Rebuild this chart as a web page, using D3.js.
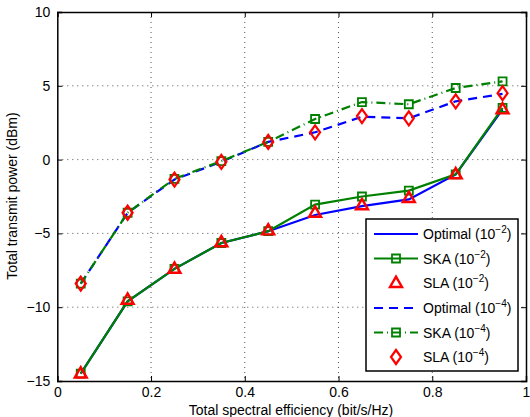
<!DOCTYPE html>
<html><head><meta charset="utf-8">
<script src="https://cdn.jsdelivr.net/npm/d3@7"></script>
<style>body{margin:0;background:#fff}svg{display:block;font-family:"Liberation Sans",Arial,sans-serif}</style>
</head><body><svg id="c" width="530" height="417"></svg>
<script>
const xVals = [0.05,0.15,0.25,0.35,0.45,0.55,0.65,0.75,0.85,0.95];
const opt2 = [-14.5,-9.6,-7.4,-5.65,-4.85,-3.75,-3.15,-2.7,-1.0,3.4];
const ska2 = [-14.5,-9.6,-7.4,-5.65,-4.85,-3.05,-2.5,-2.1,-1.0,3.5];
const sla2 = [-14.5,-9.5,-7.4,-5.6,-4.8,-3.6,-3.1,-2.6,-1.0,3.4];
const opt4 = [-8.4,-3.6,-1.35,-0.15,1.2,1.85,2.9,2.8,3.95,4.45];
const ska4 = [-8.4,-3.6,-1.3,-0.1,1.2,2.75,3.9,3.75,4.85,5.3];
const sla4 = [-8.4,-3.6,-1.35,-0.15,1.2,1.85,2.95,2.8,3.95,4.5];
const xTicks = [0,0.2,0.4,0.6,0.8,1];
const yTicks = [-15,-10,-5,0,5,10];
const legendLabels = ["Optimal","SKA","SLA","Optimal","SKA","SLA"];
const legendExp = ["\u22122","\u22122","\u22122","\u22124","\u22124","\u22124"];

const svg = d3.select("#c");
const L=57.3, R=526, T=12, B=381;
const x = d3.scaleLinear().domain([0,1]).range([L,R]);
const y = d3.scaleLinear().domain([-15,10]).range([B,T]);
const blue="#0000ff", green="#008000", red="#ff0000";

// grid
const g = svg.append("g");
xTicks.slice(1,-1).forEach(t=>g.append("line").attr("x1",x(t)).attr("x2",x(t)).attr("y1",T).attr("y2",B)
  .attr("stroke","#555").attr("stroke-width",1).attr("stroke-dasharray","1,4"));
yTicks.slice(1,-1).forEach(t=>g.append("line").attr("x1",L).attr("x2",R).attr("y1",y(t)).attr("y2",y(t))
  .attr("stroke","#555").attr("stroke-width",1).attr("stroke-dasharray","1,4"));

// axes
const fmt = d=> d<0 ? "\u2212"+Math.abs(d) : String(d);
const ax = svg.append("g").attr("transform",`translate(0,${B})`)
  .call(d3.axisBottom(x).tickValues(xTicks).tickSize(-5).tickPadding(6).tickFormat(d=>d===0||d===1?String(d):d3.format(".1f")(d)));
const ay = svg.append("g").attr("transform",`translate(${L},0)`)
  .call(d3.axisLeft(y).tickValues(yTicks).tickSize(-5).tickPadding(7).tickFormat(fmt));
const axT = svg.append("g").attr("transform",`translate(0,${T})`).call(d3.axisTop(x).tickValues(xTicks).tickSize(-5).tickFormat(""));
const ayR = svg.append("g").attr("transform",`translate(${R},0)`).call(d3.axisRight(y).tickValues(yTicks).tickSize(-5).tickFormat(""));
[ax,ay,axT,ayR].forEach(a=>{a.select(".domain").attr("stroke","#000").attr("stroke-width",1.5);
  a.selectAll(".tick line").attr("stroke","#000");
  a.selectAll("text").attr("font-size",14).attr("fill","#000").attr("font-family","Liberation Sans, Arial, sans-serif");});

// titles
svg.append("text").attr("x",291).attr("y",415).attr("text-anchor","middle").attr("font-size",14).text("Total spectral efficiency (bit/s/Hz)");
svg.append("text").attr("transform","translate(17,196) rotate(-90)").attr("text-anchor","middle").attr("font-size",14).text("Total transmit power (dBm)");

const line = d3.line().x((d,i)=>x(xVals[i])).y(d=>y(d));
function path(data,color,dash){
  svg.append("path").datum(data).attr("d",line).attr("fill","none").attr("stroke",color)
    .attr("stroke-width",2.2).attr("stroke-dasharray",dash||null);
}
const sq = d3.symbol().type(d3.symbolSquare).size(64);
const tri = d3.symbol().type(d3.symbolTriangle).size(62);
function diamondPath(){return "M0,-7L5,0L0,7L-5,0Z";}
function markers(data,kind){
  const s = svg.append("g");
  data.forEach((d,i)=>drawMarker(s,kind,x(xVals[i]),y(d)));
}
function drawMarker(s,kind,cx,cy){
  if(kind==="sq") s.append("path").attr("d",sq()).attr("transform",`translate(${cx},${cy})`).attr("fill","none").attr("stroke",green).attr("stroke-width",1.8);
  if(kind==="tri") s.append("path").attr("d",tri()).attr("transform",`translate(${cx},${cy+0.5})`).attr("fill","none").attr("stroke",red).attr("stroke-width",2.4);
  if(kind==="dia") s.append("path").attr("d",diamondPath()).attr("transform",`translate(${cx},${cy})`).attr("fill","none").attr("stroke",red).attr("stroke-width",2.2);
}
path(opt4,blue,"9,6");
path(ska4,green,"9,4,1,4");
markers(ska4,"sq");
markers(sla4,"dia");
path(opt2,blue);
path(ska2,green);
markers(ska2,"sq");
markers(sla2,"tri");

// legend
const lg = svg.append("g");
lg.append("rect").attr("x",366).attr("y",219).attr("width",152).attr("height",152).attr("fill","#fff").attr("stroke","#000").attr("stroke-width",1.5);
const rowY = [234,258.5,283,308,332.5,357];
const styles = [[blue,null,null],[green,null,"sq"],[null,null,"tri"],[blue,"9,6",null],[green,"9,4,1,4","sq"],[null,null,"dia"]];
rowY.forEach((ry,i)=>{
  const [c,dash,mk]=styles[i];
  if(c) lg.append("line").attr("x1",374).attr("x2",418).attr("y1",ry).attr("y2",ry).attr("stroke",c).attr("stroke-width",2.2).attr("stroke-dasharray",dash);
  if(mk) drawMarker(lg,mk,396,ry);
  const t = lg.append("text").attr("x",423).attr("y",ry+5).attr("font-size",14);
  t.append("tspan").text(legendLabels[i]+" (10");
  t.append("tspan").attr("dy",-6).attr("font-size",10).text(legendExp[i]);
  t.append("tspan").attr("dy",6).text(")");
});
</script></body></html>
